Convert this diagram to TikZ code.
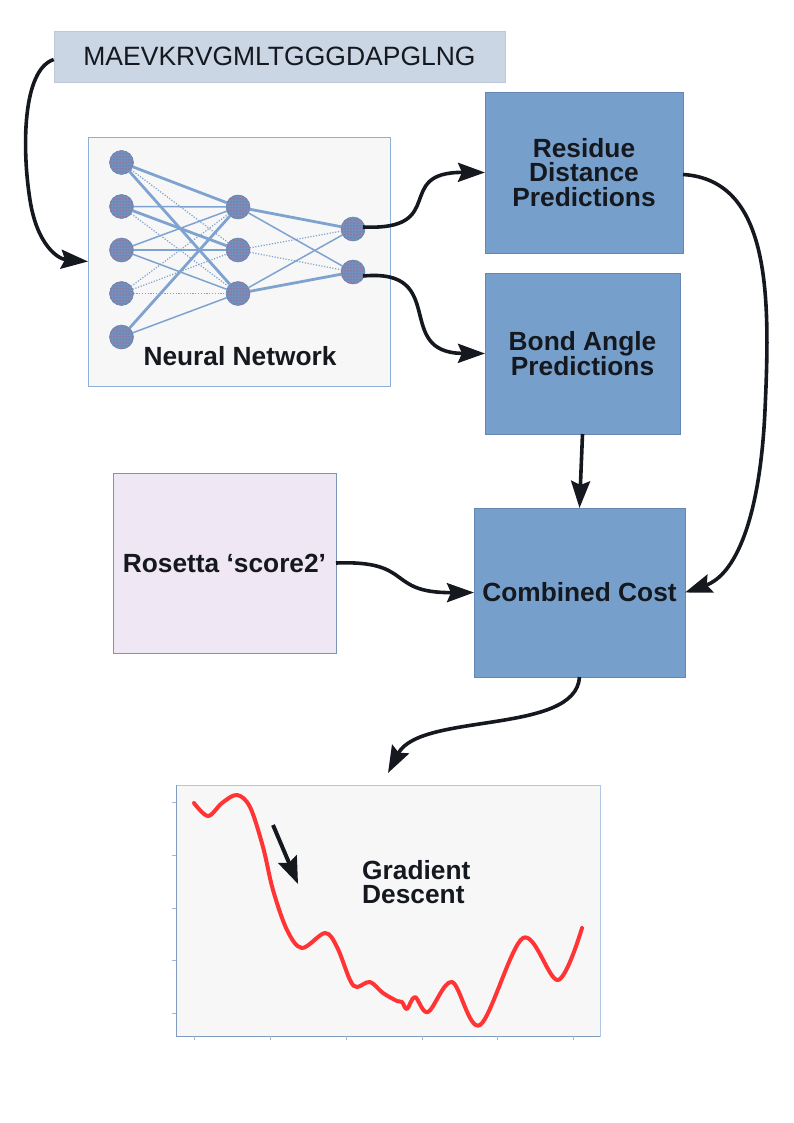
\documentclass[tikz,border=0pt]{standalone}
\usepackage{fontspec}
\setmainfont{Liberation Sans}
\usetikzlibrary{arrows.meta,patterns}
\definecolor{seqfill}{HTML}{CAD6E4}
\definecolor{boxblue}{HTML}{76A0CB}
\definecolor{boxedge}{HTML}{6487B3}
\definecolor{rosefill}{HTML}{EFE7F3}
\definecolor{roseedge}{HTML}{7C94B8}
\definecolor{panelfill}{HTML}{F7F7F7}
\definecolor{paneledge}{HTML}{8DAFD9}
\definecolor{linkblue}{HTML}{7FA3D0}
\definecolor{neuronfill}{HTML}{7090C0}
\definecolor{ink}{HTML}{15191F}
\definecolor{curvered}{HTML}{FF3535}
\definecolor{axisblue}{HTML}{7F9BC0}
\tikzset{
  labeltext/.style={text=ink, font=\fontsize{26.3}{24.5}\selectfont\bfseries, align=center, inner sep=0pt},
  seqbox/.style={fill=seqfill, draw=seqfill!85!gray, line width=0.6pt, inner sep=0pt, text=ink, font=\fontsize{26.5}{30}\selectfont},
  bluebox/.style={fill=boxblue, draw=boxedge, line width=0.8pt, inner sep=0pt, outer sep=0pt, labeltext},
  rosebox/.style={fill=rosefill, draw=roseedge, line width=0.8pt, inner sep=0pt, outer sep=0pt, labeltext},
  panel/.style={fill=panelfill, draw=paneledge, line width=0.9pt, inner sep=0pt, outer sep=0pt},
  neuron/.style={circle, minimum size=24pt, inner sep=0pt, outer sep=0pt, fill=neuronfill, draw=neuronfill!90!black, line width=0.5pt,
    postaction={pattern=dots, pattern color=red!85}},
  lthick/.style={draw=linkblue, line width=2.8pt},
  lthin/.style={draw=linkblue, line width=1.5pt},
  ldot/.style={draw=linkblue, line width=1.2pt, dash pattern=on 1.2pt off 1.6pt},
  conn/.style={draw=ink, line width=3.6pt, -{Stealth[length=27pt,width=19pt,inset=4pt]}},
  axisline/.style={draw=axisblue, line width=1pt},
  tick/.style={draw=axisblue!70, line width=0.8pt},
}
\begin{document}
\begin{tikzpicture}[x=1pt,y=-1pt]
\useasboundingbox (0,0) rectangle (794,1123);
\fill[white] (0,0) rectangle (794,1123);

% sequence
\node[seqbox, minimum width=451pt, minimum height=51pt] (seq) at (279.5,56.5) {MAEVKRVGMLTGGGDAPGLNG};

% neural network panel
\node[panel, minimum width=302pt, minimum height=249pt] (nn) at (239,261.5) {};
\node[labeltext] (nnlbl) at (240,356) {Neural Network};

\node[neuron] (i1) at (121.5,162.5) {};
\node[neuron] (i2) at (121.5,206.5) {};
\node[neuron] (i3) at (121.5,250) {};
\node[neuron] (i4) at (121.5,293.5) {};
\node[neuron] (i5) at (121.5,337) {};
\node[neuron] (h1) at (238,207) {};
\node[neuron] (h2) at (238,250) {};
\node[neuron] (h3) at (238,293.5) {};
\node[neuron] (o1) at (353,229) {};
\node[neuron] (o2) at (353,272) {};

\draw[lthick] (i1) -- (h1);
\draw[ldot]   (i1) -- (h2);
\draw[lthick] (i1) -- (h3);
\draw[lthin]  (i2) -- (h1);
\draw[lthick] (i2) -- (h2);
\draw[ldot]   (i2) -- (h3);
\draw[lthin]  (i3) -- (h1);
\draw[lthin]  (i3) -- (h2);
\draw[lthin]  (i3) -- (h3);
\draw[ldot]   (i4) -- (h1);
\draw[ldot]   (i4) -- (h2);
\draw[ldot]   (i4) -- (h3);
\draw[lthick] (i5) -- (h1);
\draw[lthin]  (i5) -- (h3);
\draw[lthick] (h1) -- (o1);
\draw[lthin]  (h1) -- (o2);
\draw[ldot]   (h2) -- (o1);
\draw[ldot]   (h2) -- (o2);
\draw[lthin]  (h3) -- (o1);
\draw[lthick] (h3) -- (o2);

% prediction boxes
\node[bluebox, minimum width=198pt, minimum height=161pt] (res) at (584,172.5) {Residue\\Distance\\Predictions};
\node[bluebox, minimum width=195pt, minimum height=161pt] (bond) at (582.5,353.5) {Bond Angle\\Predictions};
\node[rosebox, minimum width=223pt, minimum height=180pt] (rose) at (224.5,563) {Rosetta ‘score2’};
\node[bluebox, minimum width=211pt, minimum height=169pt] (comb) at (579.5,592.5) {Combined Cost};

% graph panel
\node[panel, draw=paneledge!70, minimum width=424pt, minimum height=251pt] (graph) at (388,910.5) {};
\draw[axisline] (graph.north west) -- (graph.south west) -- (graph.south east);
\foreach \tx in {194,270,346,422,497,573} \draw[tick] (\tx,1036) -- (\tx,1040);
\foreach \ty in {802,855,908,960,1013} \draw[tick] (172,\ty) -- (176,\ty);
\draw[curvered, line width=4pt, line cap=round, line join=round]
  plot[smooth, tension=0.55] coordinates {
   (194,803) (208,816) (222,803) (237,795) (250,807) (263,847) (273,890) (287,930)
   (302,948) (325,933) (337,947) (350,980) (357,987) (370,982) (383,993) (397,1001)
   (402,1002) (407,1009) (415,997) (428,1012) (452,982) (480,1025) (523,938)
   (558,980) (582,928)};
\node[labeltext, align=left, anchor=west] (gd) at (362,882) {Gradient\\Descent};
\coordinate (ga1) at (273,825);
\coordinate (ga2) at (298,884);
\draw[draw=ink, line width=4pt, -{Stealth[length=27pt,width=20pt,inset=4pt]}] (ga1) -- (ga2);

% connectors
\draw[conn] ([yshift=-3pt]seq.west) .. controls (22,70) and (22,150) .. (30,200)
  .. controls (37,245) and (58,259) .. (nn.west);
\draw[conn] ([xshift=-2pt,yshift=2pt]o1.east) .. controls (450,231) and (392,172) .. (res.west);
\draw[conn] ([xshift=-2pt,yshift=-4pt]o2.east) .. controls (450,268) and (392,353) .. (bond.west);
\draw[conn] ([yshift=-2pt]res.east) .. controls (772,180) and (770,300) .. (765,410)
  .. controls (760,520) and (735,575) .. (comb.east);
\draw[conn] (bond.south) -- (comb.north);
\draw[conn] (rose.east) .. controls (415,560) and (385,593) .. (comb.west);
\coordinate (gtop) at (388,773);
\draw[conn] (comb.south) .. controls (576,735) and (420,712) .. (gtop);
\end{tikzpicture}
\end{document}
